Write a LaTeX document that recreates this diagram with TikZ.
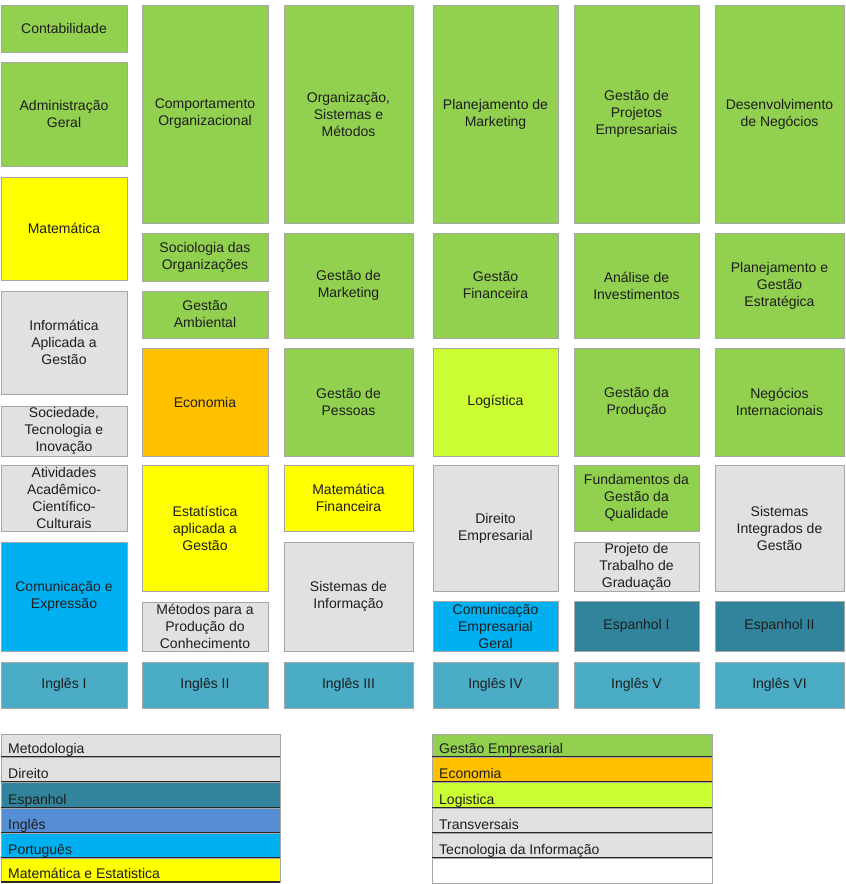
\documentclass[tikz,border=0pt]{standalone}
\usepackage{fontspec}
\setmainfont{Liberation Sans}
\definecolor{cgreen}{HTML}{92D050}
\definecolor{cyellow}{HTML}{FFFF00}
\definecolor{corange}{HTML}{FFC000}
\definecolor{cgray}{HTML}{E1E1E1}
\definecolor{ccyan}{HTML}{00B0F0}
\definecolor{cingles}{HTML}{4BACC6}
\definecolor{cesp}{HTML}{31849B}
\definecolor{clog}{HTML}{CCFF33}
\definecolor{cinglesleg}{HTML}{558ED5}
\definecolor{cborder}{HTML}{A6A6A6}
\definecolor{ctext}{HTML}{1E1E1E}
\tikzset{
  cellbox/.style={draw=cborder, line width=0.8pt, rectangle, inner sep=0pt, outer sep=0pt,
    align=center, text=ctext, font=\fontsize{14}{17}\selectfont},
  legbox/.style={draw=cborder, line width=0.8pt, rectangle, inner sep=0pt, outer sep=0pt},
  legtext/.style={anchor=base west, inner sep=0pt, text=ctext, font=\fontsize{14}{17}\selectfont},
  legline/.style={draw=black!85, line width=1.6pt},
}
\newcommand\cell[7]{%
  \pgfmathsetmacro\cw{#4-#2}\pgfmathsetmacro\ch{#5-#3}%
  \node[cellbox,fill=#6,minimum width=\cw pt,minimum height=\ch pt] (#1) at ({(#2+#4)/2},{(#3+#5)/2}) {#7};}
\newcommand\legitem[7]{%
  \pgfmathsetmacro\cw{#4-#2}\pgfmathsetmacro\ch{#5-#3}%
  \node[legbox,fill=#6,minimum width=\cw pt,minimum height=\ch pt] (#1) at ({(#2+#4)/2},{(#3+#5)/2}) {};
  \node[legtext] (#1t) at ([xshift=7pt,yshift=4pt]#1.south west) {#7};
  \draw[legline] (#1.south west) -- (#1.south east);}
\begin{document}
\begin{tikzpicture}[x=1pt,y=-1pt]
\useasboundingbox (0,0) rectangle (846,884);
% column 1
\cell{a1}{1}{5}{127}{52}{cgreen}{Contabilidade}
\cell{a2}{1}{62}{127}{166}{cgreen}{Administração\\Geral}
\cell{a3}{1}{177}{127}{280}{cyellow}{Matemática}
\cell{a4}{1}{291}{127}{394}{cgray}{Informática\\Aplicada a\\Gestão}
\cell{a5}{1}{406}{127}{456}{cgray}{Sociedade,\\Tecnologia e\\Inovação}
\cell{a6}{1}{465}{127}{531}{cgray}{Atividades\\Acadêmico-\\Científico-\\Culturais}
\cell{a7}{1}{542}{127}{651}{ccyan}{Comunicação e\\Expressão}
\cell{a8}{1}{662}{127}{708}{cingles}{Inglês I}
% column 2
\cell{b1}{142}{5}{268}{223}{cgreen}{Comportamento\\Organizacional}
\cell{b2}{142}{233}{268}{281}{cgreen}{Sociologia das\\Organizações}
\cell{b3}{142}{291}{268}{338}{cgreen}{Gestão\\Ambiental}
\cell{b4}{142}{348}{268}{456}{corange}{Economia}
\cell{b5}{142}{465}{268}{591}{cyellow}{Estatística\\aplicada a\\Gestão}
\cell{b6}{142}{602}{268}{651}{cgray}{Métodos para a\\Produção do\\Conhecimento}
\cell{b7}{142}{662}{268}{708}{cingles}{Inglês II}
% column 3
\cell{c1}{284}{5}{413}{223}{cgreen}{Organização,\\Sistemas e\\Métodos}
\cell{c2}{284}{233}{413}{338}{cgreen}{Gestão de\\Marketing}
\cell{c3}{284}{348}{413}{456}{cgreen}{Gestão de\\Pessoas}
\cell{c4}{284}{465}{413}{531}{cyellow}{Matemática\\Financeira}
\cell{c5}{284}{542}{413}{651}{cgray}{Sistemas de\\Informação}
\cell{c6}{284}{662}{413}{708}{cingles}{Inglês III}
% column 4
\cell{d1}{433}{5}{558}{223}{cgreen}{Planejamento de\\Marketing}
\cell{d2}{433}{233}{558}{338}{cgreen}{Gestão\\Financeira}
\cell{d3}{433}{348}{558}{456}{clog}{Logística}
\cell{d4}{433}{465}{558}{591}{cgray}{Direito\\Empresarial}
\cell{d5}{433}{601}{558}{651}{ccyan}{Comunicação\\Empresarial\\Geral}
\cell{d6}{433}{662}{558}{708}{cingles}{Inglês IV}
% column 5
\cell{e1}{574}{5}{699}{223}{cgreen}{Gestão de\\Projetos\\Empresariais}
\cell{e2}{574}{233}{699}{338}{cgreen}{Análise de\\Investimentos}
\cell{e3}{574}{348}{699}{456}{cgreen}{Gestão da\\Produção}
\cell{e4}{574}{465}{699}{531}{cgreen}{Fundamentos da\\Gestão da\\Qualidade}
\cell{e5}{574}{542}{699}{591}{cgray}{Projeto de\\Trabalho de\\Graduação}
\cell{e6}{574}{601}{699}{651}{cesp}{Espanhol I}
\cell{e7}{574}{662}{699}{708}{cingles}{Inglês V}
% column 6
\cell{f1}{715}{5}{844}{223}{cgreen}{Desenvolvimento\\de Negócios}
\cell{f2}{715}{233}{844}{338}{cgreen}{Planejamento e\\Gestão\\Estratégica}
\cell{f3}{715}{348}{844}{456}{cgreen}{Negócios\\Internacionais}
\cell{f4}{715}{465}{844}{591}{cgray}{Sistemas\\Integrados de\\Gestão}
\cell{f5}{715}{601}{844}{651}{cesp}{Espanhol II}
\cell{f6}{715}{662}{844}{708}{cingles}{Inglês VI}
% legend left
\legitem{l1}{1}{734}{280}{757}{cgray}{Metodologia}
\legitem{l2}{1}{757}{280}{782}{cgray}{Direito}
\legitem{l3}{1}{782}{280}{808}{cesp}{Espanhol}
\legitem{l4}{1}{808}{280}{833}{cinglesleg}{Inglês}
\legitem{l5}{1}{833}{280}{858}{ccyan}{Português}
\legitem{l6}{1}{858}{280}{882}{cyellow}{Matemática e Estatistica}
% legend right
\legitem{r1}{432}{734}{712}{757}{cgreen}{Gestão Empresarial}
\legitem{r2}{432}{757}{712}{782}{corange}{Economia}
\legitem{r3}{432}{782}{712}{808}{clog}{Logistica}
\legitem{r4}{432}{808}{712}{833}{cgray}{Transversais}
\legitem{r5}{432}{833}{712}{858}{cgray}{Tecnologia da Informação}
\node[legbox,fill=white,minimum width=280pt,minimum height=25pt] (r6) at (572,870.5) {};
\end{tikzpicture}
\end{document}
